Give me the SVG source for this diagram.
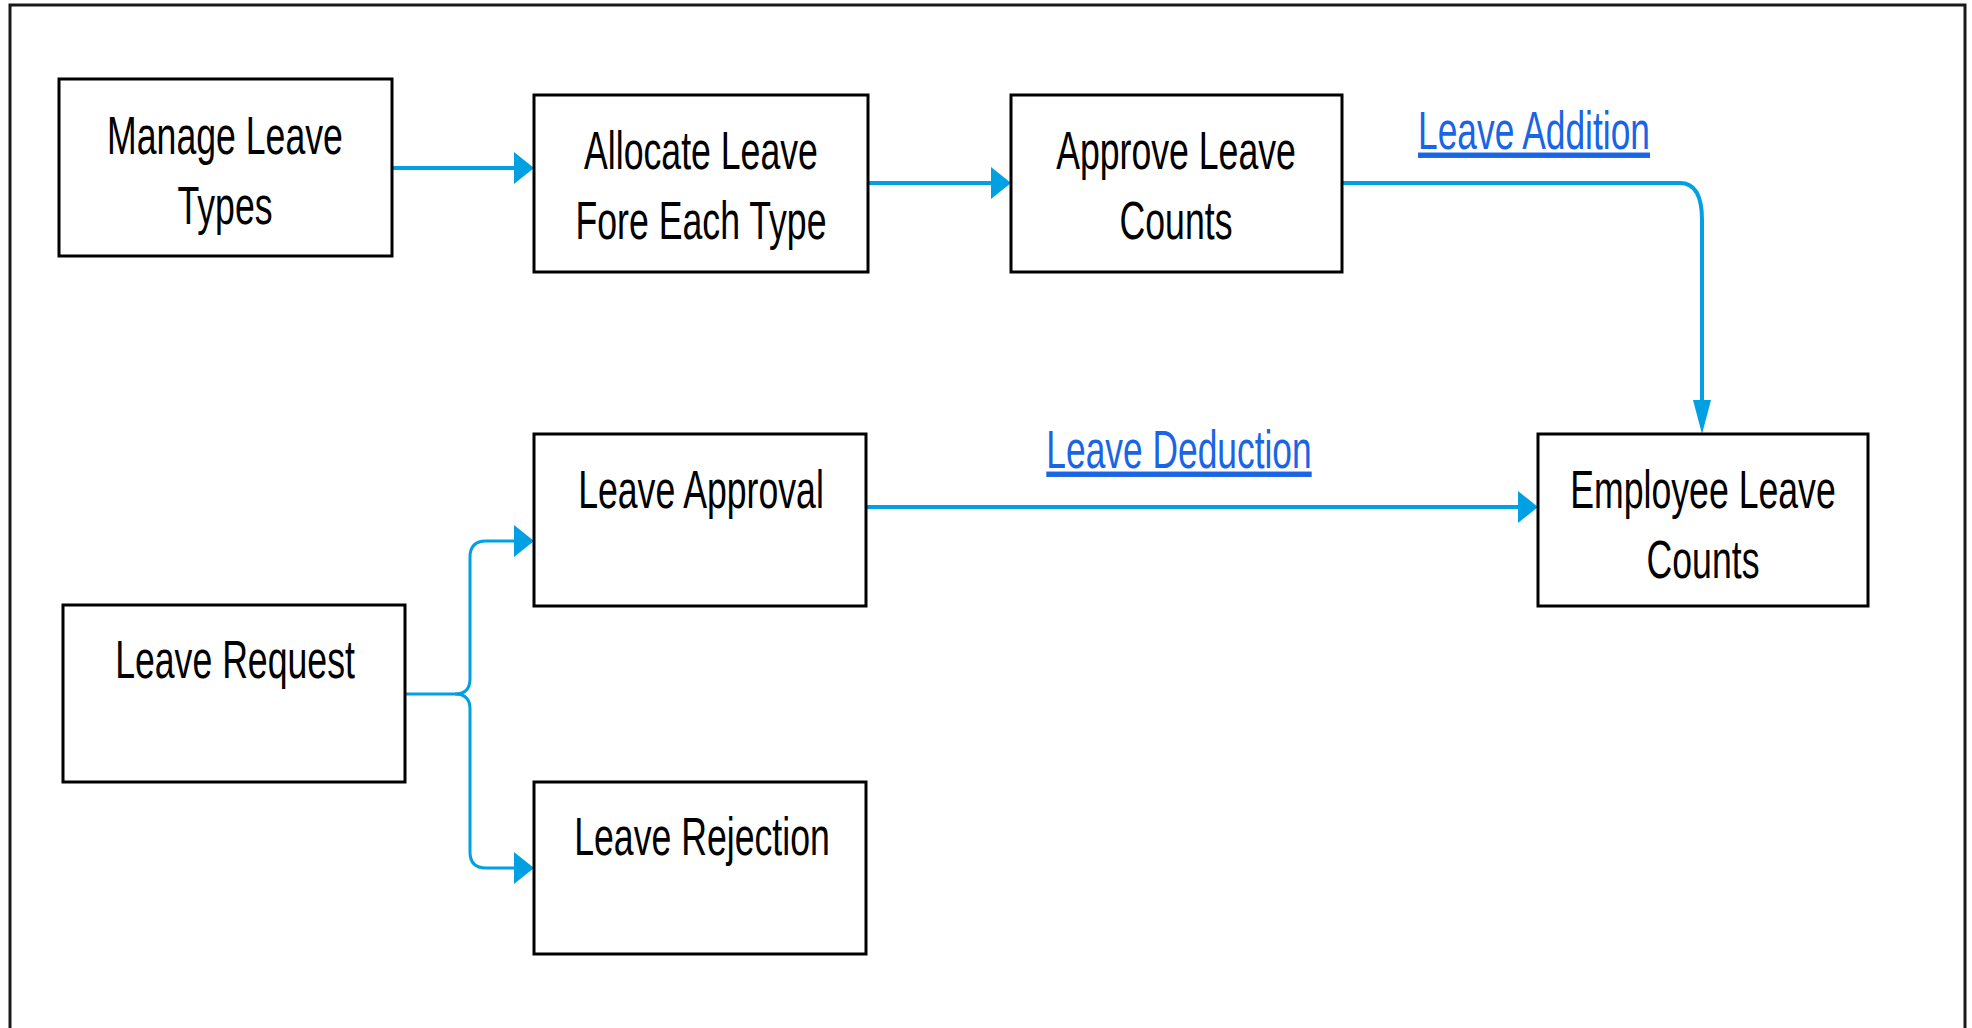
<svg xmlns="http://www.w3.org/2000/svg" width="1972" height="1028" viewBox="0 0 1972 1028">
<style>
.box{fill:#ffffff;stroke:#000000;stroke-width:3}
.t{font-family:"Liberation Sans",Arial,sans-serif;font-size:54px;fill:#000000;text-anchor:middle}
.lk{font-family:"Liberation Sans",Arial,sans-serif;font-size:54px;fill:#1a64e6;text-anchor:middle;text-decoration:underline}
.c{fill:none;stroke:#00a0e3;stroke-width:4}
.c2{fill:none;stroke:#00a0e3;stroke-width:3}
</style>
<defs>
<marker id="ah" markerUnits="userSpaceOnUse" markerWidth="20" markerHeight="32" viewBox="0 0 20 32" refX="10" refY="16" orient="auto">
<path d="M0,0 L20,16 L0,32 Z" fill="#00a0e3"/>
</marker>
<marker id="av" markerUnits="userSpaceOnUse" markerWidth="34" markerHeight="18" viewBox="0 0 34 18" refX="17" refY="9" orient="auto">
<path d="M0,0 L34,9 L0,18 Z" fill="#00a0e3"/>
</marker>
</defs>
<rect x="0" y="0" width="1972" height="1028" fill="#ffffff"/>
<rect x="10" y="5" width="1955" height="1100" fill="none" stroke="#1a1a1a" stroke-width="3"/>

<g id="connectors">
<path class="c" d="M392,168 H524" marker-end="url(#ah)"/>
<path class="c" d="M868,183 H1001" marker-end="url(#ah)"/>
<path class="c" d="M1342,183 H1680 Q1702,183 1702,220 V417" marker-end="url(#av)"/>
<path class="c" d="M866,507 H1528" marker-end="url(#ah)"/>
<path class="c2" d="M405,694 H455 Q470,694 470,679 V557 Q470,541 486,541 H524" marker-end="url(#ah)"/>
<path class="c2" d="M455,694 Q470,694 470,709 V852 Q470,868 486,868 H524" marker-end="url(#ah)"/>
<text class="lk" transform="translate(1534 0) scale(0.655 1)" x="0" y="149">Leave Addition</text>
<text class="lk" transform="translate(1179 0) scale(0.655 1)" x="0" y="468">Leave Deduction</text>
</g>

<g id="manage-leave-types">
<rect class="box" x="59" y="79" width="333" height="177"/>
<text class="t" transform="translate(225 0) scale(0.66 1)" x="0" y="154">Manage Leave</text>
<text class="t" transform="translate(225 0) scale(0.66 1)" x="0" y="224">Types</text>
</g>

<g id="allocate-leave">
<rect class="box" x="534" y="95" width="334" height="177"/>
<text class="t" transform="translate(701 0) scale(0.66 1)" x="0" y="169">Allocate Leave</text>
<text class="t" transform="translate(701 0) scale(0.66 1)" x="0" y="239">Fore Each Type</text>
</g>

<g id="approve-leave-counts">
<rect class="box" x="1011" y="95" width="331" height="177"/>
<text class="t" transform="translate(1176 0) scale(0.66 1)" x="0" y="169">Approve Leave</text>
<text class="t" transform="translate(1176 0) scale(0.66 1)" x="0" y="239">Counts</text>
</g>

<g id="employee-leave-counts">
<rect class="box" x="1538" y="434" width="330" height="172"/>
<text class="t" transform="translate(1703 0) scale(0.66 1)" x="0" y="508">Employee Leave</text>
<text class="t" transform="translate(1703 0) scale(0.66 1)" x="0" y="578">Counts</text>
</g>

<g id="leave-approval">
<rect class="box" x="534" y="434" width="332" height="172"/>
<text class="t" transform="translate(701 0) scale(0.66 1)" x="0" y="508">Leave Approval</text>
</g>

<g id="leave-request">
<rect class="box" x="63" y="605" width="342" height="177"/>
<text class="t" transform="translate(235 0) scale(0.66 1)" x="0" y="678">Leave Request</text>
</g>

<g id="leave-rejection">
<rect class="box" x="534" y="782" width="332" height="172"/>
<text class="t" transform="translate(702 0) scale(0.66 1)" x="0" y="855">Leave Rejection</text>
</g>
</svg>
